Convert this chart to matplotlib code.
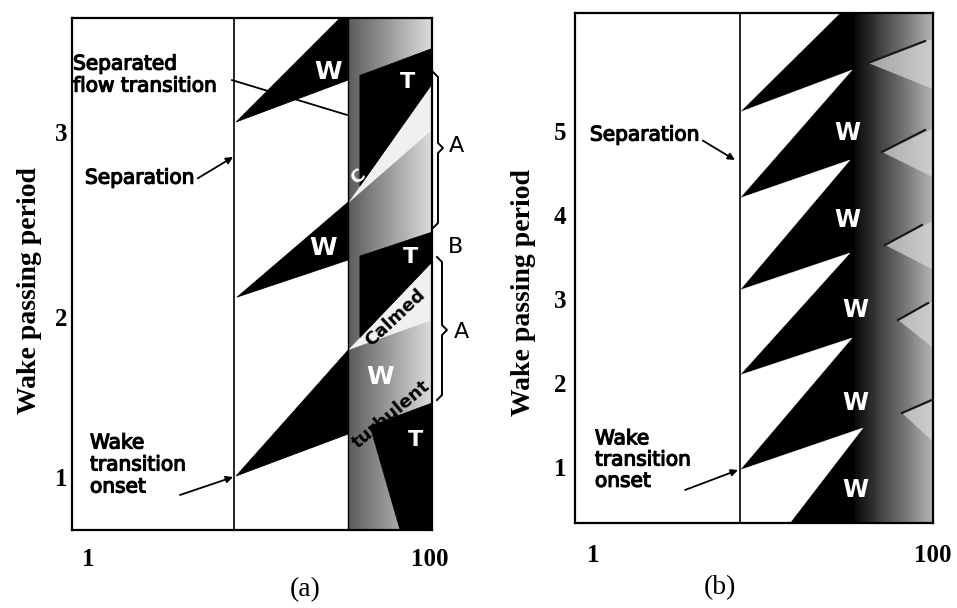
import numpy as np
import matplotlib
matplotlib.use('Agg')
import matplotlib.pyplot as plt
from matplotlib.patches import Polygon
from matplotlib.lines import Line2D
import matplotlib.patheffects as pe

# ---------------- shared axis data ----------------
xticks = [1, 100]
xticklabels = ['1', '100']

# ---------------- panel (a) data ----------------
a_xlim = (0.806, 102.7)
a_ylim = (0.693, 3.661)
a_yticks = [1.0, 1.93, 3.0]
a_yticklabels = ['1', '2', '3']
a_sep_x = 7.14            # separation line
a_band_x = 33.2           # separated-flow transition band

# black wake-induced wedges (between separation line and band)
a_wake_wedges = [
    [(7.34, 1.006), (33.2, 1.249), (33.2, 1.736)],
    [(7.44, 2.043), (33.2, 2.258), (33.2, 2.594)],
    [(7.34, 3.058), (33.2, 3.301), (33.2, 3.661), (29.8, 3.661)],
]
# black turbulent strips inside the band
a_turb_strips = [
    [(44.6, 1.295), (102.7, 1.429), (102.7, 0.693), (66.8, 0.693)],
    [(38.9, 2.281), (102.7, 2.420), (102.7, 2.246), (38.9, 1.809)],
    [(38.9, 3.328), (102.7, 3.484), (102.7, 3.278), (38.9, 2.687)],
]
# calmed regions (light)
a_calmed = [
    [(33.2, 1.736), (102.7, 2.246), (102.7, 1.910)],
    [(33.2, 2.588), (102.7, 3.278), (102.7, 3.012)],
]
a_W_pos = [(25.3, 3.348), (23.7, 2.328), (51.0, 1.580)]
a_T_pos = [(73.4, 3.290), (76.4, 2.275), (81.7, 1.214)]

# ---------------- panel (b) data ----------------
b_xlim = (0.784, 100)
b_ylim = (0.333, 6.405)
b_yticks = [1, 2, 3, 4, 5]
b_yticklabels = ['1', '2', '3', '4', '5']
b_sep_x = 7.32
b_band_x = 34.8
# laminar (white) regions between wake wedges
b_laminar = [
    [(7.32, 6.405), (7.32, 5.226), (28.4, 6.405)],
    [(7.32, 5.226), (33.4, 5.726), (7.32, 4.202)],
    [(7.32, 4.202), (32.5, 4.655), (7.32, 3.107)],
    [(7.32, 3.107), (32.5, 3.548), (7.32, 2.095)],
    [(7.32, 2.095), (33.4, 2.536), (7.32, 0.964)],
    [(7.32, 0.964), (38.7, 1.464), (14.4, 0.333), (7.32, 0.333)],
]
# calmed-region boundaries near the trailing edge
b_calm_lines = [
    [(41.5, 5.810), (89.7, 6.071)],
    [(50.1, 4.750), (89.7, 5.012)],
    [(52.2, 3.643), (86.1, 3.881)],
    [(62.3, 2.750), (93.5, 2.952)],
    [(65.7, 1.643), (98.6, 1.798)],
]
b_calm_zones = [
    [(41.5, 5.810), (100, 6.10), (100, 5.50)],
    [(50.1, 4.750), (100, 5.03), (100, 4.45)],
    [(52.2, 3.643), (100, 3.93), (100, 3.35)],
    [(62.3, 2.750), (100, 2.97), (100, 2.42)],
    [(65.7, 1.643), (100, 1.80), (100, 1.30)],
]
b_W_pos = [(31.2, 4.976), (31.2, 3.940), (34.8, 2.869), (34.8, 1.762), (34.8, 0.726)]

# ---------------- styles ----------------
SANS = 'DejaVu Sans'
SERIF = 'Liberation Serif'
thick = [pe.withStroke(linewidth=0.9, foreground='black')]


def gradient(ax, x0, x1, y0, y1, c0, c1, z, n=80):
    xe = np.geomspace(x0, x1, n + 1)
    ye = np.array([y0, y1])
    C = np.linspace(c0, c1, n)[None, :]
    ax.pcolormesh(xe, ye, C, cmap='gray', vmin=0, vmax=1, shading='flat',
                  edgecolors='none', antialiased=False, zorder=z)


def style_axes(ax, xlim, ylim, yt, ytl, xpad, ypad):
    ax.set_xscale('log')
    ax.set_xlim(*xlim)
    ax.set_ylim(*ylim)
    ax.set_xticks(xticks)
    ax.set_xticklabels(xticklabels)
    ax.minorticks_off()
    ax.set_yticks(yt)
    ax.set_yticklabels(ytl)
    ax.tick_params(axis='x', length=0, pad=xpad)
    ax.tick_params(axis='y', length=0, pad=ypad)
    for lab in ax.get_xticklabels() + ax.get_yticklabels():
        lab.set_fontfamily(SERIF)
        lab.set_fontweight('bold')
        lab.set_fontsize(18)
    for s in ax.spines.values():
        s.set_linewidth(1.6)
        s.set_zorder(10)


fig = plt.figure(figsize=(9.57, 6.08), dpi=100)
fig.patch.set_facecolor('white')

# ================= panel (a) =================
axa = fig.add_axes([72 / 957, 1 - 530 / 608, 360 / 957, 512 / 608])
style_axes(axa, a_xlim, a_ylim, a_yticks, a_yticklabels, 13, 3)
gradient(axa, a_band_x, a_xlim[1], a_ylim[0], a_ylim[1], 0.36, 0.86, 1)
for poly in a_calmed:
    axa.add_patch(Polygon(poly, closed=True, facecolor='0.94', edgecolor='none', zorder=2))
for poly in a_wake_wedges + a_turb_strips:
    axa.add_patch(Polygon(poly, closed=True, facecolor='black', edgecolor='black', lw=0.5, zorder=3))
axa.axvline(a_sep_x, color='black', lw=1.2, zorder=4)
axa.axvline(a_band_x, color='black', lw=1.0, zorder=4)

for (x, y) in a_W_pos:
    axa.text(x, y, 'W', color='white', fontsize=18, fontweight='bold', family=SANS,
             ha='center', va='center', zorder=6)
for (x, y) in a_T_pos:
    axa.text(x, y, 'T', color='white', fontsize=16, fontweight='bold', family=SANS,
             ha='center', va='center', zorder=6)
axa.text(37.9, 2.739, 'C', color='white', fontsize=13, fontweight='bold', family=SANS,
         ha='center', va='center', rotation=40, zorder=6)
axa.text(62.4, 1.922, 'Calmed', color='black', fontsize=13, fontweight='bold', family=SANS,
         ha='center', va='center', rotation=43, rotation_mode='anchor', zorder=6)
axa.text(97.3, 1.539, 'turbulent', color='black', fontsize=13, fontweight='bold', family=SANS,
         ha='right', va='center', rotation=40, rotation_mode='anchor', zorder=2.5)

lab_kw = dict(fontsize=14.5, family=SANS, color='black', zorder=7, path_effects=thick)
axa.text(0.817, 3.330, 'Separated\nflow transition', ha='left', va='center',
         linespacing=1.2, **lab_kw)
axa.plot([6.95, 32.7], [3.301, 3.099], color='black', lw=1.3, zorder=2.8)
axa.annotate('Separation', xy=(7.05, 2.855), xytext=(0.960, 2.733),
             ha='left', va='center',
             arrowprops=dict(arrowstyle='-|>', color='black', lw=1.3, mutation_scale=10,
                             shrinkA=0, shrinkB=0, relpos=(1.0, 0.4)),
             **lab_kw)
axa.text(1.027, 1.070, 'Wake\ntransition\nonset', ha='left', va='center',
         linespacing=1.2, **lab_kw)
axa.annotate('', xy=(7.05, 1.0), xytext=(3.45, 0.896),
             arrowprops=dict(arrowstyle='-|>', color='black', lw=1.3, mutation_scale=10,
                             shrinkA=0, shrinkB=0))

# ================= panel (b) =================
axb = fig.add_axes([575 / 957, 1 - 523 / 608, 358 / 957, 510 / 608])
style_axes(axb, b_xlim, b_ylim, b_yticks, b_yticklabels, 15, 6)
axb.axvspan(b_sep_x, b_xlim[1], color='black', lw=0, zorder=1)
gradient(axb, b_band_x, b_xlim[1], b_ylim[0], b_ylim[1], 0.04, 0.70, 2)
for poly in b_calm_zones:
    axb.add_patch(Polygon(poly, closed=True, facecolor='0.85', edgecolor='none',
                          alpha=0.7, zorder=3))
for poly in b_laminar:
    axb.add_patch(Polygon(poly, closed=True, facecolor='white', edgecolor='white', lw=0.3, zorder=4))
for seg in b_calm_lines:
    xs, ys = zip(*seg)
    axb.plot(xs, ys, color='0.1', lw=1.6, zorder=5)
axb.axvline(b_sep_x, color='black', lw=1.2, zorder=6)
for (x, y) in b_W_pos:
    axb.text(x, y, 'W', color='white', fontsize=17, fontweight='bold', family=SANS,
             ha='center', va='center', zorder=7)
axb.annotate('Separation', xy=(6.84, 4.655), xytext=(0.960, 4.952),
             ha='left', va='center',
             arrowprops=dict(arrowstyle='-|>', color='black', lw=1.3, mutation_scale=10,
                             shrinkA=0, shrinkB=0, relpos=(1.0, 0.3)),
             **lab_kw)
axb.text(1.027, 1.083, 'Wake\ntransition\nonset', ha='left', va='center',
         linespacing=1.15, **lab_kw)
axb.annotate('', xy=(7.13, 0.964), xytext=(3.48, 0.726),
             arrowprops=dict(arrowstyle='-|>', color='black', lw=1.3, mutation_scale=10,
                             shrinkA=0, shrinkB=0))

# ================= outside annotations (figure pixels) =================
W, H = 957.0, 608.0


def fx(px):
    return px / W


def fy(py):
    return 1 - py / H


for pts in ([(433, 72), (438, 77), (438, 143), (443, 148), (438, 153), (438, 223), (433, 228)],
            [(437, 257), (442, 262), (442, 325), (447, 330), (442, 335), (442, 395), (437, 400)]):
    xs = [fx(p[0]) for p in pts]
    ys = [fy(p[1]) for p in pts]
    fig.add_artist(Line2D(xs, ys, color='black', lw=1.4, transform=fig.transFigure))
for (px, py, s) in [(456, 146, 'A'), (456, 247, 'B'), (461, 332, 'A')]:
    fig.text(fx(px), fy(py), s, fontsize=16, family=SANS, ha='center', va='center')

fig.text(fx(30), fy(290), 'Wake passing period', rotation=90, fontsize=20,
         fontweight='bold', family=SERIF, ha='center', va='center')
fig.text(fx(523), fy(293), 'Wake passing period', rotation=90, fontsize=20,
         fontweight='bold', family=SERIF, ha='center', va='center')
fig.text(fx(305), fy(590), '(a)', fontsize=20, family=SERIF, ha='center', va='center')
fig.text(fx(720), fy(588), '(b)', fontsize=20, family=SERIF, ha='center', va='center')

fig.savefig('out.png', dpi=100, facecolor='white')
